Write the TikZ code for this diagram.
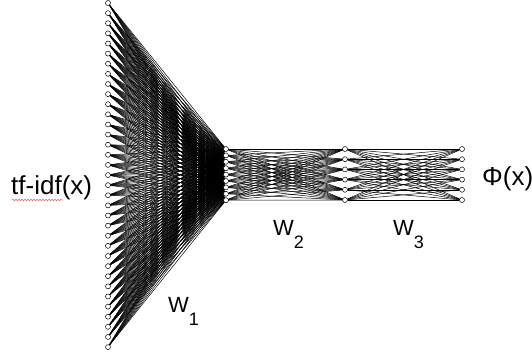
\documentclass[tikz,border=0pt]{standalone}
\usepackage{fontspec}
\setmainfont{Liberation Sans}
\usetikzlibrary{decorations.pathmorphing}
\definecolor{cred}{HTML}{E06060}
\tikzset{
  every picture/.style={line width=0.4pt},
  unit/.style={circle, draw=black, fill=white, inner sep=0pt, minimum size=5pt, line width=0.5pt},
  wire/.style={draw=black, line width=0.5pt},
  lbl/.style={font=\fontsize{26}{26}\selectfont, inner sep=0pt},
  wlbl/.style={font=\fontsize{22}{22}\selectfont, inner sep=0pt},
}
\newcommand{\wlabel}[1]{W\raisebox{-13pt}{\fontsize{18}{18}\selectfont #1}}

\begin{document}
\begin{tikzpicture}[x=1pt, y=-1pt]
  \useasboundingbox (0,0) rectangle (532,354);
  % layers
  \foreach \i in {1,...,35} \node[unit] (a\i) at (108, {3 + 10.12*(\i-1)}) {};
  \foreach \i in {1,...,9} \node[unit] (b\i) at (226, {149 + 6.4*(\i-1)}) {};
  \foreach \i in {1,...,6} \node[unit] (c\i) at (345, {149 + 10.2*(\i-1)}) {};
  \foreach \i in {1,...,6} \node[unit] (d\i) at (462, {149 + 10.2*(\i-1)}) {};
  % weights
  \foreach \i in {1,...,35} \foreach \j in {1,...,9} \draw[wire] (a\i) -- (b\j);
  \foreach \i in {1,...,9} \foreach \j in {1,...,6} \draw[wire] (b\i) -- (c\j);
  \foreach \i in {1,...,6} \foreach \j in {1,...,6} \draw[wire] (c\i) -- (d\j);
  % labels
  \node[lbl, anchor=base west] (input) at (11, 194) {tf-idf(x)};
  \draw[cred, line width=0.5pt, decorate, decoration={snake, amplitude=0.8pt, segment length=3pt}] (12,200) -- (63,200);
  \node[lbl, anchor=base west] (output) at (482, 185) {Φ(x)};
  \node[wlbl, anchor=base west] (w1) at (168, 312) {\wlabel{1}};
  \node[wlbl, anchor=base west] (w2) at (273, 235) {\wlabel{2}};
  \node[wlbl, anchor=base west] (w3) at (393, 235) {\wlabel{3}};
\end{tikzpicture}
\end{document}
